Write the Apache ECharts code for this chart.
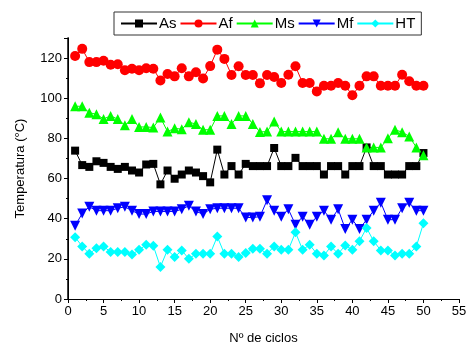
<!DOCTYPE html>
<html>
<head>
<meta charset="utf-8">
<script src="https://cdn.jsdelivr.net/npm/echarts@6/dist/echarts.min.js"></script>
<style>
  html, body { margin: 0; padding: 0; background: #fff; }
  #chart { width: 470px; height: 350px; }
</style>
</head>
<body>
<div id="chart"></div>
<script>
// ciclos 1..50
const ciclos = [1,2,3,4,5,6,7,8,9,10,11,12,13,14,15,16,17,18,19,20,21,22,23,24,25,
  26,27,28,29,30,31,32,33,34,35,36,37,38,39,40,41,42,43,44,45,46,47,48,49,50];

const As = [73.9,66.7,65.8,68.6,67.8,65.8,64.8,65.8,64,63,67,67.3,57.1,64,59.9,62,64,63,61.2,58.1,
  74.4,62,66.2,62,67.3,66.2,66.2,66.2,75.2,66.2,66.2,70.3,66.2,66.2,66.2,62,66.2,66.2,62,66.2,
  66.2,75.5,66.2,66.2,62,62,62,66.2,66.2,72.7];
const Af = [121,124.6,118,118,118.7,116.7,116.9,113.9,114.7,113.9,114.9,114.7,108.8,112.1,110.9,114.9,110.9,112.9,109.8,116,
  124.2,119.6,111.6,115.9,111.6,111.6,107.4,111.6,110.6,107.6,111.7,115.9,107.6,107.6,103.4,106.2,106.2,107.6,106.2,101.5,
  106.2,110.9,110.9,106.2,106.2,106.2,111.7,108.5,106.2,106.2];
const Ms = [96,96,92.8,92,89.7,91.2,89.6,86.6,89.6,85.7,85.7,85.4,90.4,83.4,85,84.6,88,87.2,84.3,84.3,
  91.2,91.2,87.2,91.2,91.2,87.2,83.2,83.4,88.4,83.4,83.4,83.4,83.4,83.4,83.4,79.8,79.8,83.1,79.8,79.8,
  79.8,75.5,75.5,75.5,80.1,84.3,83.1,81,75.5,71.6];
const Mf = [36.5,42.6,45.9,44,44,44,45.2,45.9,44,42.3,42.3,43.6,43.6,43.6,43.6,44.7,46.4,43.6,42.3,44.7,
  45.2,45.2,45.2,45.2,40.6,40.6,41,49.2,44,41,44.7,37,41,37,41,44,39.5,44.7,34.9,39.5,
  34.9,39.5,44,48,39.5,39.5,45.2,48,44,44];
const HT = [30.8,26.2,22.5,25.3,26.2,23.4,23.4,23.4,22.2,24.5,27,26.5,16,24.5,20.9,24.2,20,22.5,22.5,22.5,
  31.1,22.5,22.5,20.9,22.9,25,25,22.5,26.2,24.5,24.5,33.2,24.5,27,22.5,21.7,26.2,22.5,26.7,24.5,
  28.8,35.4,28.8,24.2,24.2,21.7,22.5,22.5,26.2,37.7];

const fontFamily = 'Liberation Sans, Arial, sans-serif';
const downTriangle = 'path://M0,0 L10,0 L5,9 Z';

function pairs(ys) {
  return ciclos.map((c, i) => [c, ys[i]]);
}

function mkSeries(name, ys, color, symbol, size) {
  return {
    name: name,
    type: 'line',
    data: pairs(ys),
    symbol: symbol,
    symbolSize: size,
    showAllSymbol: true,
    lineStyle: { color: color, width: 1 },
    itemStyle: { color: color },
    emphasis: { disabled: true },
    animation: false
  };
}

const chart = echarts.init(document.getElementById('chart'));

const option = {
  backgroundColor: '#fff',
  textStyle: { fontFamily: fontFamily },
  legend: {
    left: 114,
    top: 12,
    padding: [4, 6],
    itemWidth: 36,
    itemHeight: 10,
    itemGap: 3,
    borderColor: '#333',
    borderWidth: 1,
    textStyle: { fontSize: 15, color: '#000', padding: [0, 0, 0, -3] },
    data: ['As', 'Af', 'Ms', 'Mf', 'HT']
  },
  grid: { left: 68, right: 11, top: 38, bottom: 48, containLabel: false },
  xAxis: [
    {
      type: 'value', min: 0, max: 55, interval: 5,
      name: 'Nº de ciclos', nameLocation: 'middle', nameGap: 33,
      nameTextStyle: { fontSize: 13, color: '#000' },
      axisLine: { lineStyle: { color: '#000', width: 1 } },
      axisTick: { length: 4, lineStyle: { color: '#000' } },
      minorTick: { show: true, splitNumber: 2, length: 2, lineStyle: { color: '#000' } },
      axisLabel: { fontSize: 13, color: '#000', margin: 6 },
      splitLine: { show: false }
    },
    {
      type: 'value', min: 0, max: 55, interval: 5, position: 'top',
      axisLine: { lineStyle: { color: '#000', width: 1 } },
      axisTick: { inside: true, length: 4, lineStyle: { color: '#000' } },
      minorTick: { show: false },
      axisLabel: { show: false },
      splitLine: { show: false }
    }
  ],
  yAxis: [
    {
      type: 'value', min: 0, max: 130, interval: 20,
      name: 'Temperatura (°C)', nameLocation: 'middle', nameGap: 41,
      nameTextStyle: { fontSize: 13, color: '#000' },
      axisLine: { show: true, lineStyle: { color: '#000', width: 1 } },
      axisTick: { show: true, length: 4, lineStyle: { color: '#000' } },
      minorTick: { show: true, splitNumber: 2, length: 2, lineStyle: { color: '#000' } },
      axisLabel: { fontSize: 13, color: '#000', margin: 6, showMaxLabel: false },
      splitLine: { show: false }
    },
    {
      type: 'value', min: 0, max: 130, interval: 20, position: 'right',
      axisLine: { show: true, lineStyle: { color: '#000', width: 1.5 } },
      axisTick: { show: true, inside: true, length: 4, lineStyle: { color: '#000' } },
      minorTick: { show: false },
      axisLabel: { show: false },
      splitLine: { show: false }
    }
  ],
  series: [
    mkSeries('As', As, '#000000', 'rect', 8),
    mkSeries('Af', Af, '#ff0000', 'circle', 10),
    mkSeries('Ms', Ms, '#00ff00', 'triangle', 10),
    mkSeries('Mf', Mf, '#0000ff', downTriangle, 10),
    mkSeries('HT', HT, '#00ffff', 'diamond', 10)
  ]
};

chart.setOption(option);
</script>
</body>
</html>
